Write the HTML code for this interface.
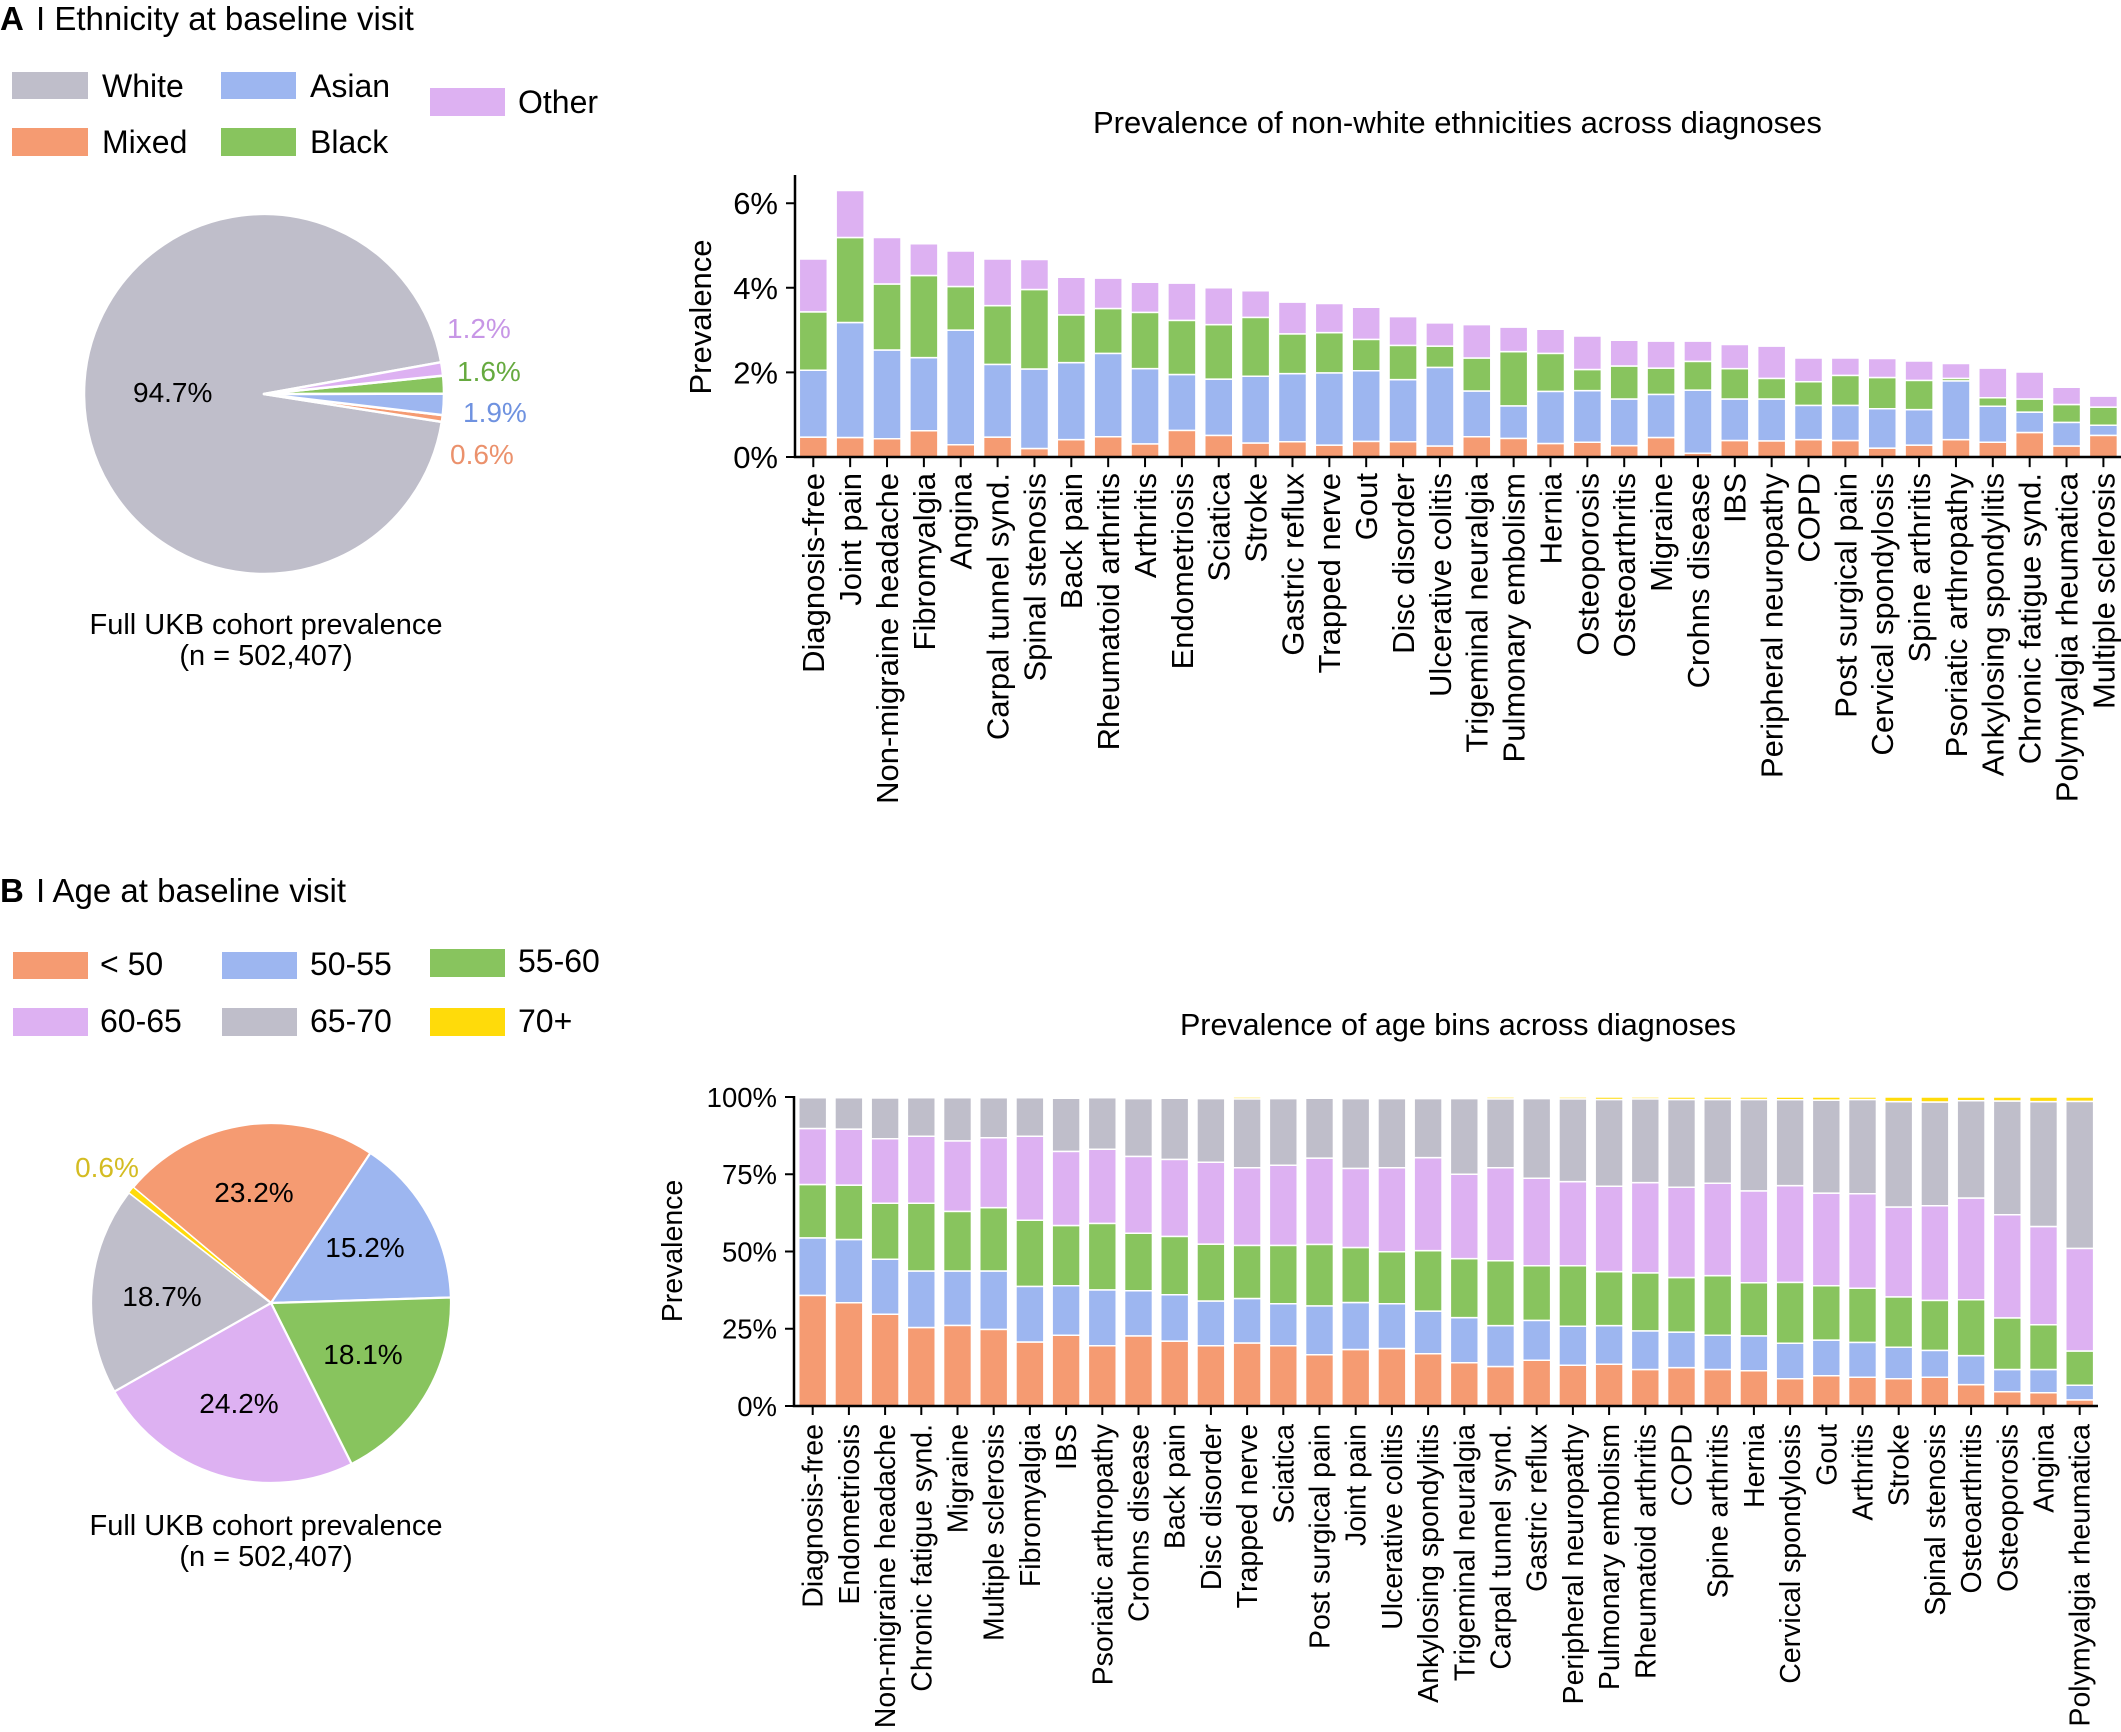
<!DOCTYPE html>
<html><head><meta charset="utf-8"><style>
html,body{margin:0;padding:0;background:#fff}
svg{display:block}
text{font-family:"Liberation Sans",Arial,Helvetica,sans-serif;fill:#000}
.o{fill:#F59B72}.b{fill:#9DB6F0}.g{fill:#88C45E}.p{fill:#DDB1F2}.w{fill:#BFBECA}.y{fill:#FFDB0A}
.bars rect{stroke:#fff;stroke-width:1.5px;vector-effect:non-scaling-stroke}
.tk{stroke:#000;stroke-width:2px;fill:none;vector-effect:non-scaling-stroke}
.xa text{font-size:31px;text-anchor:end}
.xb text{font-size:28.5px;text-anchor:end}
.lg{font-size:32px}
.pl{font-size:28px}
</style></head><body>
<svg xmlns="http://www.w3.org/2000/svg" width="2121" height="1732" viewBox="0 0 2121 1732">
<rect width="2121" height="1732" fill="#fff"/>

<!-- ================= PANEL A ================= -->
<text x="0" y="30" style="font-size:33px;font-weight:bold">A</text>
<text x="36" y="30" style="font-size:33px">I Ethnicity at baseline visit</text>

<rect class="w" x="12" y="72" width="76" height="27"/><text class="lg" x="102" y="97">White</text>
<rect class="b" x="221" y="72" width="75" height="27"/><text class="lg" x="310" y="97">Asian</text>
<rect class="p" x="430" y="88" width="75" height="28"/><text class="lg" x="518" y="113">Other</text>
<rect class="o" x="12" y="128" width="76" height="28"/><text class="lg" x="102" y="153">Mixed</text>
<rect class="g" x="221" y="128" width="75" height="28"/><text class="lg" x="310" y="153">Black</text>

<g stroke="#fff" stroke-width="2.5" stroke-linejoin="round">
<path class="w" d="M264 394 L441.17 362.18 A180 180 0 1 0 441.83 421.85 Z"/>
<path class="o" d="M264 394 L441.83 421.85 A180 180 0 0 0 442.76 415.13 Z"/>
<path class="b" d="M264 394 L442.76 415.13 A180 180 0 0 0 444 393.69 Z"/>
<path class="g" d="M264 394 L444 393.69 A180 180 0 0 0 443.06 375.62 Z"/>
<path class="p" d="M264 394 L443.06 375.62 A180 180 0 0 0 441.17 362.18 Z"/>
</g>
<text class="pl" x="133" y="402">94.7%</text>
<text class="pl" x="447" y="338" style="fill:#C796E6">1.2%</text>
<text class="pl" x="457" y="381" style="fill:#66AA3F">1.6%</text>
<text class="pl" x="463" y="422" style="fill:#6F92E0">1.9%</text>
<text class="pl" x="450" y="464" style="fill:#EB916C">0.6%</text>
<text x="266" y="634" style="font-size:29px;text-anchor:middle">Full UKB cohort prevalence</text>
<text x="266" y="665" style="font-size:29px;text-anchor:middle">(n = 502,407)</text>

<!-- Chart A -->
<text x="1093" y="133" style="font-size:31px">Prevalence of non-white ethnicities across diagnoses</text>
<text transform="translate(711 317) rotate(-90)" style="font-size:31px;text-anchor:middle">Prevalence</text>
<g style="font-size:31px;text-anchor:end">
<text x="778" y="468">0%</text>
<text x="778" y="383.4">2%</text>
<text x="778" y="298.8">4%</text>
<text x="778" y="214.2">6%</text>
</g>
<path d="M786 457H795M786 372.4H795M786 287.8H795M786 203.2H795" stroke="#000" stroke-width="2"/>

<g class="bars" transform="translate(813.3 457) scale(36.86 -42.3)">
<rect class="o" x="-.38" width=".76" y="0" height=".47"/><rect class="b" x="-.38" width=".76" y=".47" height="1.58"/><rect class="g" x="-.38" width=".76" y="2.05" height="1.38"/><rect class="p" x="-.38" width=".76" y="3.43" height="1.25"/>
<rect class="o" x=".62" width=".76" y="0" height=".46"/><rect class="b" x=".62" width=".76" y=".46" height="2.72"/><rect class="g" x=".62" width=".76" y="3.18" height="2.01"/><rect class="p" x=".62" width=".76" y="5.19" height="1.11"/>
<rect class="o" x="1.62" width=".76" y="0" height=".43"/><rect class="b" x="1.62" width=".76" y=".43" height="2.10"/><rect class="g" x="1.62" width=".76" y="2.53" height="1.56"/><rect class="p" x="1.62" width=".76" y="4.09" height="1.10"/>
<rect class="o" x="2.62" width=".76" y="0" height=".62"/><rect class="b" x="2.62" width=".76" y=".62" height="1.73"/><rect class="g" x="2.62" width=".76" y="2.35" height="1.94"/><rect class="p" x="2.62" width=".76" y="4.29" height=".75"/>
<rect class="o" x="3.62" width=".76" y="0" height=".29"/><rect class="b" x="3.62" width=".76" y=".29" height="2.71"/><rect class="g" x="3.62" width=".76" y="3.00" height="1.03"/><rect class="p" x="3.62" width=".76" y="4.03" height=".84"/>
<rect class="o" x="4.62" width=".76" y="0" height=".47"/><rect class="b" x="4.62" width=".76" y=".47" height="1.72"/><rect class="g" x="4.62" width=".76" y="2.19" height="1.39"/><rect class="p" x="4.62" width=".76" y="3.58" height="1.10"/>
<rect class="o" x="5.62" width=".76" y="0" height=".20"/><rect class="b" x="5.62" width=".76" y=".20" height="1.88"/><rect class="g" x="5.62" width=".76" y="2.08" height="1.88"/><rect class="p" x="5.62" width=".76" y="3.96" height=".71"/>
<rect class="o" x="6.62" width=".76" y="0" height=".41"/><rect class="b" x="6.62" width=".76" y=".41" height="1.82"/><rect class="g" x="6.62" width=".76" y="2.23" height="1.13"/><rect class="p" x="6.62" width=".76" y="3.36" height=".89"/>
<rect class="o" x="7.62" width=".76" y="0" height=".48"/><rect class="b" x="7.62" width=".76" y=".48" height="1.97"/><rect class="g" x="7.62" width=".76" y="2.45" height="1.06"/><rect class="p" x="7.62" width=".76" y="3.51" height=".72"/>
<rect class="o" x="8.62" width=".76" y="0" height=".31"/><rect class="b" x="8.62" width=".76" y=".31" height="1.78"/><rect class="g" x="8.62" width=".76" y="2.09" height="1.33"/><rect class="p" x="8.62" width=".76" y="3.42" height=".71"/>
<rect class="o" x="9.62" width=".76" y="0" height=".63"/><rect class="b" x="9.62" width=".76" y=".63" height="1.32"/><rect class="g" x="9.62" width=".76" y="1.95" height="1.28"/><rect class="p" x="9.62" width=".76" y="3.23" height=".88"/>
<rect class="o" x="10.62" width=".76" y="0" height=".51"/><rect class="b" x="10.62" width=".76" y=".51" height="1.33"/><rect class="g" x="10.62" width=".76" y="1.84" height="1.29"/><rect class="p" x="10.62" width=".76" y="3.13" height=".87"/>
<rect class="o" x="11.62" width=".76" y="0" height=".33"/><rect class="b" x="11.62" width=".76" y=".33" height="1.58"/><rect class="g" x="11.62" width=".76" y="1.91" height="1.39"/><rect class="p" x="11.62" width=".76" y="3.30" height=".63"/>
<rect class="o" x="12.62" width=".76" y="0" height=".36"/><rect class="b" x="12.62" width=".76" y=".36" height="1.61"/><rect class="g" x="12.62" width=".76" y="1.97" height=".94"/><rect class="p" x="12.62" width=".76" y="2.91" height=".75"/>
<rect class="o" x="13.62" width=".76" y="0" height=".28"/><rect class="b" x="13.62" width=".76" y=".28" height="1.71"/><rect class="g" x="13.62" width=".76" y="1.99" height=".95"/><rect class="p" x="13.62" width=".76" y="2.94" height=".69"/>
<rect class="o" x="14.62" width=".76" y="0" height=".37"/><rect class="b" x="14.62" width=".76" y=".37" height="1.67"/><rect class="g" x="14.62" width=".76" y="2.04" height=".74"/><rect class="p" x="14.62" width=".76" y="2.78" height=".76"/>
<rect class="o" x="15.62" width=".76" y="0" height=".36"/><rect class="b" x="15.62" width=".76" y=".36" height="1.47"/><rect class="g" x="15.62" width=".76" y="1.83" height=".81"/><rect class="p" x="15.62" width=".76" y="2.64" height=".68"/>
<rect class="o" x="16.62" width=".76" y="0" height=".26"/><rect class="b" x="16.62" width=".76" y=".26" height="1.86"/><rect class="g" x="16.62" width=".76" y="2.12" height=".50"/><rect class="p" x="16.62" width=".76" y="2.62" height=".55"/>
<rect class="o" x="17.62" width=".76" y="0" height=".48"/><rect class="b" x="17.62" width=".76" y=".48" height="1.08"/><rect class="g" x="17.62" width=".76" y="1.56" height=".78"/><rect class="p" x="17.62" width=".76" y="2.34" height=".79"/>
<rect class="o" x="18.62" width=".76" y="0" height=".44"/><rect class="b" x="18.62" width=".76" y=".44" height=".77"/><rect class="g" x="18.62" width=".76" y="1.21" height="1.28"/><rect class="p" x="18.62" width=".76" y="2.49" height=".58"/>
<rect class="o" x="19.62" width=".76" y="0" height=".32"/><rect class="b" x="19.62" width=".76" y=".32" height="1.23"/><rect class="g" x="19.62" width=".76" y="1.55" height=".90"/><rect class="p" x="19.62" width=".76" y="2.45" height=".57"/>
<rect class="o" x="20.62" width=".76" y="0" height=".35"/><rect class="b" x="20.62" width=".76" y=".35" height="1.22"/><rect class="g" x="20.62" width=".76" y="1.57" height=".50"/><rect class="p" x="20.62" width=".76" y="2.07" height=".79"/>
<rect class="o" x="21.62" width=".76" y="0" height=".27"/><rect class="b" x="21.62" width=".76" y=".27" height="1.10"/><rect class="g" x="21.62" width=".76" y="1.37" height=".78"/><rect class="p" x="21.62" width=".76" y="2.15" height=".61"/>
<rect class="o" x="22.62" width=".76" y="0" height=".46"/><rect class="b" x="22.62" width=".76" y=".46" height="1.02"/><rect class="g" x="22.62" width=".76" y="1.48" height=".62"/><rect class="p" x="22.62" width=".76" y="2.10" height=".64"/>
<rect class="o" x="23.62" width=".76" y="0" height=".09"/><rect class="b" x="23.62" width=".76" y=".09" height="1.49"/><rect class="g" x="23.62" width=".76" y="1.58" height=".68"/><rect class="p" x="23.62" width=".76" y="2.26" height=".48"/>
<rect class="o" x="24.62" width=".76" y="0" height=".39"/><rect class="b" x="24.62" width=".76" y=".39" height=".98"/><rect class="g" x="24.62" width=".76" y="1.37" height=".72"/><rect class="p" x="24.62" width=".76" y="2.09" height=".57"/>
<rect class="o" x="25.62" width=".76" y="0" height=".38"/><rect class="b" x="25.62" width=".76" y=".38" height=".99"/><rect class="g" x="25.62" width=".76" y="1.37" height=".49"/><rect class="p" x="25.62" width=".76" y="1.86" height=".76"/>
<rect class="o" x="26.62" width=".76" y="0" height=".41"/><rect class="b" x="26.62" width=".76" y=".41" height=".81"/><rect class="g" x="26.62" width=".76" y="1.22" height=".56"/><rect class="p" x="26.62" width=".76" y="1.78" height=".56"/>
<rect class="o" x="27.62" width=".76" y="0" height=".39"/><rect class="b" x="27.62" width=".76" y=".39" height=".83"/><rect class="g" x="27.62" width=".76" y="1.22" height=".71"/><rect class="p" x="27.62" width=".76" y="1.93" height=".41"/>
<rect class="o" x="28.62" width=".76" y="0" height=".21"/><rect class="b" x="28.62" width=".76" y=".21" height=".93"/><rect class="g" x="28.62" width=".76" y="1.14" height=".74"/><rect class="p" x="28.62" width=".76" y="1.88" height=".45"/>
<rect class="o" x="29.62" width=".76" y="0" height=".28"/><rect class="b" x="29.62" width=".76" y=".28" height=".84"/><rect class="g" x="29.62" width=".76" y="1.12" height=".69"/><rect class="p" x="29.62" width=".76" y="1.81" height=".46"/>
<rect class="o" x="30.62" width=".76" y="0" height=".41"/><rect class="b" x="30.62" width=".76" y=".41" height="1.39"/><rect class="g" x="30.62" width=".76" y="1.80" height=".06"/><rect class="p" x="30.62" width=".76" y="1.86" height=".35"/>
<rect class="o" x="31.62" width=".76" y="0" height=".35"/><rect class="b" x="31.62" width=".76" y=".35" height=".85"/><rect class="g" x="31.62" width=".76" y="1.20" height=".20"/><rect class="p" x="31.62" width=".76" y="1.40" height=".70"/>
<rect class="o" x="32.62" width=".76" y="0" height=".58"/><rect class="b" x="32.62" width=".76" y=".58" height=".48"/><rect class="g" x="32.62" width=".76" y="1.06" height=".31"/><rect class="p" x="32.62" width=".76" y="1.37" height=".64"/>
<rect class="o" x="33.62" width=".76" y="0" height=".26"/><rect class="b" x="33.62" width=".76" y=".26" height=".56"/><rect class="g" x="33.62" width=".76" y=".82" height=".42"/><rect class="p" x="33.62" width=".76" y="1.24" height=".41"/>
<rect class="o" x="34.62" width=".76" y="0" height=".51"/><rect class="b" x="34.62" width=".76" y=".51" height=".24"/><rect class="g" x="34.62" width=".76" y=".75" height=".43"/><rect class="p" x="34.62" width=".76" y="1.18" height=".26"/>
<path class="tk" d="M0 0V-.24M1 0V-.24M2 0V-.24M3 0V-.24M4 0V-.24M5 0V-.24M6 0V-.24M7 0V-.24M8 0V-.24M9 0V-.24M10 0V-.24M11 0V-.24M12 0V-.24M13 0V-.24M14 0V-.24M15 0V-.24M16 0V-.24M17 0V-.24M18 0V-.24M19 0V-.24M20 0V-.24M21 0V-.24M22 0V-.24M23 0V-.24M24 0V-.24M25 0V-.24M26 0V-.24M27 0V-.24M28 0V-.24M29 0V-.24M30 0V-.24M31 0V-.24M32 0V-.24M33 0V-.24M34 0V-.24M35 0V-.24"/>
</g>
<path d="M795 175V458.2M793.8 457H2121" stroke="#000" stroke-width="2.5" fill="none"/>

<g class="xa">
<text transform="translate(813.3 473) rotate(-90)" dy=".35em">Diagnosis-free</text>
<text transform="translate(850.2 473) rotate(-90)" dy=".35em">Joint pain</text>
<text transform="translate(887.0 473) rotate(-90)" dy=".35em">Non-migraine headache</text>
<text transform="translate(923.9 473) rotate(-90)" dy=".35em">Fibromyalgia</text>
<text transform="translate(960.7 473) rotate(-90)" dy=".35em">Angina</text>
<text transform="translate(997.6 473) rotate(-90)" dy=".35em">Carpal tunnel synd.</text>
<text transform="translate(1034.5 473) rotate(-90)" dy=".35em">Spinal stenosis</text>
<text transform="translate(1071.3 473) rotate(-90)" dy=".35em">Back pain</text>
<text transform="translate(1108.2 473) rotate(-90)" dy=".35em">Rheumatoid arthritis</text>
<text transform="translate(1145.0 473) rotate(-90)" dy=".35em">Arthritis</text>
<text transform="translate(1181.9 473) rotate(-90)" dy=".35em">Endometriosis</text>
<text transform="translate(1218.8 473) rotate(-90)" dy=".35em">Sciatica</text>
<text transform="translate(1255.6 473) rotate(-90)" dy=".35em">Stroke</text>
<text transform="translate(1292.5 473) rotate(-90)" dy=".35em">Gastric reflux</text>
<text transform="translate(1329.3 473) rotate(-90)" dy=".35em">Trapped nerve</text>
<text transform="translate(1366.2 473) rotate(-90)" dy=".35em">Gout</text>
<text transform="translate(1403.1 473) rotate(-90)" dy=".35em">Disc disorder</text>
<text transform="translate(1439.9 473) rotate(-90)" dy=".35em">Ulcerative colitis</text>
<text transform="translate(1476.8 473) rotate(-90)" dy=".35em">Trigeminal neuralgia</text>
<text transform="translate(1513.6 473) rotate(-90)" dy=".35em">Pulmonary embolism</text>
<text transform="translate(1550.5 473) rotate(-90)" dy=".35em">Hernia</text>
<text transform="translate(1587.4 473) rotate(-90)" dy=".35em">Osteoporosis</text>
<text transform="translate(1624.2 473) rotate(-90)" dy=".35em">Osteoarthritis</text>
<text transform="translate(1661.1 473) rotate(-90)" dy=".35em">Migraine</text>
<text transform="translate(1697.9 473) rotate(-90)" dy=".35em">Crohns disease</text>
<text transform="translate(1734.8 473) rotate(-90)" dy=".35em">IBS</text>
<text transform="translate(1771.7 473) rotate(-90)" dy=".35em">Peripheral neuropathy</text>
<text transform="translate(1808.5 473) rotate(-90)" dy=".35em">COPD</text>
<text transform="translate(1845.4 473) rotate(-90)" dy=".35em">Post surgical pain</text>
<text transform="translate(1882.2 473) rotate(-90)" dy=".35em">Cervical spondylosis</text>
<text transform="translate(1919.1 473) rotate(-90)" dy=".35em">Spine arthritis</text>
<text transform="translate(1956.0 473) rotate(-90)" dy=".35em">Psoriatic arthropathy</text>
<text transform="translate(1992.8 473) rotate(-90)" dy=".35em">Ankylosing spondylitis</text>
<text transform="translate(2029.7 473) rotate(-90)" dy=".35em">Chronic fatigue synd.</text>
<text transform="translate(2066.5 473) rotate(-90)" dy=".35em">Polymyalgia rheumatica</text>
<text transform="translate(2103.4 473) rotate(-90)" dy=".35em">Multiple sclerosis</text>
</g>

<!-- ================= PANEL B ================= -->
<text x="0" y="902" style="font-size:33px;font-weight:bold">B</text>
<text x="36" y="902" style="font-size:33px">I Age at baseline visit</text>

<rect class="o" x="13" y="952" width="75" height="27"/><text class="lg" x="100" y="975">&lt; 50</text>
<rect class="b" x="222" y="952" width="75" height="27"/><text class="lg" x="310" y="975">50-55</text>
<rect class="g" x="430" y="949" width="75" height="28"/><text class="lg" x="518" y="972">55-60</text>
<rect class="p" x="13" y="1008" width="75" height="28"/><text class="lg" x="100" y="1032">60-65</text>
<rect class="w" x="222" y="1008" width="75" height="28"/><text class="lg" x="310" y="1032">65-70</text>
<rect class="y" x="430" y="1008" width="75" height="28"/><text class="lg" x="518" y="1032">70+</text>

<g stroke="#fff" stroke-width="2.2" stroke-linejoin="round">
<path class="o" d="M271 1303 L133.11 1187.30 A180 180 0 0 1 370.42 1152.94 Z"/>
<path class="b" d="M271 1303 L370.42 1152.94 A180 180 0 0 1 450.92 1297.47 Z"/>
<path class="g" d="M271 1303 L450.92 1297.47 A180 180 0 0 1 351.60 1463.95 Z"/>
<path class="p" d="M271 1303 L351.60 1463.95 A180 180 0 0 1 114.30 1391.58 Z"/>
<path class="w" d="M271 1303 L114.30 1391.58 A180 180 0 0 1 128.89 1192.55 Z"/>
</g>
<path class="y" d="M271 1303 L128.89 1192.55 A180 180 0 0 1 133.11 1187.30 Z" stroke="#fff" stroke-width="1"/>
<g class="pl" style="text-anchor:middle">
<text x="254" y="1202">23.2%</text>
<text x="365" y="1257">15.2%</text>
<text x="363" y="1364">18.1%</text>
<text x="239" y="1413">24.2%</text>
<text x="162" y="1306">18.7%</text>
<text x="107" y="1177" style="fill:#D4BC22">0.6%</text>
</g>
<text x="266" y="1535" style="font-size:29px;text-anchor:middle">Full UKB cohort prevalence</text>
<text x="266" y="1566" style="font-size:29px;text-anchor:middle">(n = 502,407)</text>

<!-- Chart B -->
<text x="1458" y="1035" style="font-size:30.5px;text-anchor:middle">Prevalence of age bins across diagnoses</text>
<text transform="translate(682 1251) rotate(-90)" style="font-size:28.5px;text-anchor:middle">Prevalence</text>
<g style="font-size:27.5px;text-anchor:end">
<text x="777" y="1416">0%</text>
<text x="777" y="1338.7">25%</text>
<text x="777" y="1261.5">50%</text>
<text x="777" y="1184.2">75%</text>
<text x="777" y="1107">100%</text>
</g>
<path d="M785 1406H794M785 1328.7H794M785 1251.5H794M785 1174.2H794M785 1097H794" stroke="#000" stroke-width="2"/>

<g class="bars" transform="translate(812.7 1406) scale(36.2 -3.09)">
<rect class="o" x="-.385" width=".77" y="0" height="35.8"/><rect class="b" x="-.385" width=".77" y="35.8" height="18.6"/><rect class="g" x="-.385" width=".77" y="54.4" height="17.3"/><rect class="p" x="-.385" width=".77" y="71.7" height="18.1"/><rect class="w" x="-.385" width=".77" y="89.8" height="10.0"/><rect class="y" x="-.385" width=".77" y="99.8" height=".2"/>
<rect class="o" x=".615" width=".77" y="0" height="33.4"/><rect class="b" x=".615" width=".77" y="33.4" height="20.5"/><rect class="g" x=".615" width=".77" y="53.9" height="17.6"/><rect class="p" x=".615" width=".77" y="71.5" height="18.1"/><rect class="w" x=".615" width=".77" y="89.6" height="10.2"/><rect class="y" x=".615" width=".77" y="99.8" height=".2"/>
<rect class="o" x="1.615" width=".77" y="0" height="29.7"/><rect class="b" x="1.615" width=".77" y="29.7" height="17.8"/><rect class="g" x="1.615" width=".77" y="47.5" height="18.1"/><rect class="p" x="1.615" width=".77" y="65.6" height="20.9"/><rect class="w" x="1.615" width=".77" y="86.5" height="13.2"/><rect class="y" x="1.615" width=".77" y="99.7" height=".3"/>
<rect class="o" x="2.615" width=".77" y="0" height="25.4"/><rect class="b" x="2.615" width=".77" y="25.4" height="18.3"/><rect class="g" x="2.615" width=".77" y="43.7" height="21.9"/><rect class="p" x="2.615" width=".77" y="65.6" height="21.7"/><rect class="w" x="2.615" width=".77" y="87.3" height="12.5"/><rect class="y" x="2.615" width=".77" y="99.8" height=".2"/>
<rect class="o" x="3.615" width=".77" y="0" height="26.1"/><rect class="b" x="3.615" width=".77" y="26.1" height="17.6"/><rect class="g" x="3.615" width=".77" y="43.7" height="19.3"/><rect class="p" x="3.615" width=".77" y="63.0" height="22.8"/><rect class="w" x="3.615" width=".77" y="85.8" height="14.0"/><rect class="y" x="3.615" width=".77" y="99.8" height=".2"/>
<rect class="o" x="4.615" width=".77" y="0" height="24.8"/><rect class="b" x="4.615" width=".77" y="24.8" height="18.9"/><rect class="g" x="4.615" width=".77" y="43.7" height="20.5"/><rect class="p" x="4.615" width=".77" y="64.2" height="22.6"/><rect class="w" x="4.615" width=".77" y="86.8" height="13.0"/><rect class="y" x="4.615" width=".77" y="99.8" height=".2"/>
<rect class="o" x="5.615" width=".77" y="0" height="20.7"/><rect class="b" x="5.615" width=".77" y="20.7" height="18.0"/><rect class="g" x="5.615" width=".77" y="38.7" height="21.4"/><rect class="p" x="5.615" width=".77" y="60.1" height="27.2"/><rect class="w" x="5.615" width=".77" y="87.3" height="12.5"/><rect class="y" x="5.615" width=".77" y="99.8" height=".2"/>
<rect class="o" x="6.615" width=".77" y="0" height="22.9"/><rect class="b" x="6.615" width=".77" y="22.9" height="16.0"/><rect class="g" x="6.615" width=".77" y="38.9" height="19.5"/><rect class="p" x="6.615" width=".77" y="58.4" height="24.0"/><rect class="w" x="6.615" width=".77" y="82.4" height="17.2"/><rect class="y" x="6.615" width=".77" y="99.6" height=".4"/>
<rect class="o" x="7.615" width=".77" y="0" height="19.5"/><rect class="b" x="7.615" width=".77" y="19.5" height="18.1"/><rect class="g" x="7.615" width=".77" y="37.6" height="21.5"/><rect class="p" x="7.615" width=".77" y="59.1" height="24.0"/><rect class="w" x="7.615" width=".77" y="83.1" height="16.7"/><rect class="y" x="7.615" width=".77" y="99.8" height=".2"/>
<rect class="o" x="8.615" width=".77" y="0" height="22.7"/><rect class="b" x="8.615" width=".77" y="22.7" height="14.6"/><rect class="g" x="8.615" width=".77" y="37.3" height="18.6"/><rect class="p" x="8.615" width=".77" y="55.9" height="24.9"/><rect class="w" x="8.615" width=".77" y="80.8" height="18.7"/><rect class="y" x="8.615" width=".77" y="99.5" height=".5"/>
<rect class="o" x="9.615" width=".77" y="0" height="21.0"/><rect class="b" x="9.615" width=".77" y="21.0" height="15.0"/><rect class="g" x="9.615" width=".77" y="36.0" height="18.9"/><rect class="p" x="9.615" width=".77" y="54.9" height="24.9"/><rect class="w" x="9.615" width=".77" y="79.8" height="19.8"/><rect class="y" x="9.615" width=".77" y="99.6" height=".4"/>
<rect class="o" x="10.615" width=".77" y="0" height="19.5"/><rect class="b" x="10.615" width=".77" y="19.5" height="14.5"/><rect class="g" x="10.615" width=".77" y="34.0" height="18.4"/><rect class="p" x="10.615" width=".77" y="52.4" height="26.5"/><rect class="w" x="10.615" width=".77" y="78.9" height="20.6"/><rect class="y" x="10.615" width=".77" y="99.5" height=".5"/>
<rect class="o" x="11.615" width=".77" y="0" height="20.4"/><rect class="b" x="11.615" width=".77" y="20.4" height="14.4"/><rect class="g" x="11.615" width=".77" y="34.8" height="17.2"/><rect class="p" x="11.615" width=".77" y="52.0" height="25.1"/><rect class="w" x="11.615" width=".77" y="77.1" height="22.3"/><rect class="y" x="11.615" width=".77" y="99.4" height=".6"/>
<rect class="o" x="12.615" width=".77" y="0" height="19.5"/><rect class="b" x="12.615" width=".77" y="19.5" height="13.6"/><rect class="g" x="12.615" width=".77" y="33.1" height="18.9"/><rect class="p" x="12.615" width=".77" y="52.0" height="25.9"/><rect class="w" x="12.615" width=".77" y="77.9" height="21.6"/><rect class="y" x="12.615" width=".77" y="99.5" height=".5"/>
<rect class="o" x="13.615" width=".77" y="0" height="16.6"/><rect class="b" x="13.615" width=".77" y="16.6" height="15.8"/><rect class="g" x="13.615" width=".77" y="32.4" height="19.9"/><rect class="p" x="13.615" width=".77" y="52.3" height="27.9"/><rect class="w" x="13.615" width=".77" y="80.2" height="19.4"/><rect class="y" x="13.615" width=".77" y="99.6" height=".4"/>
<rect class="o" x="14.615" width=".77" y="0" height="18.3"/><rect class="b" x="14.615" width=".77" y="18.3" height="15.2"/><rect class="g" x="14.615" width=".77" y="33.5" height="17.8"/><rect class="p" x="14.615" width=".77" y="51.3" height="25.6"/><rect class="w" x="14.615" width=".77" y="76.9" height="22.6"/><rect class="y" x="14.615" width=".77" y="99.5" height=".5"/>
<rect class="o" x="15.615" width=".77" y="0" height="18.6"/><rect class="b" x="15.615" width=".77" y="18.6" height="14.5"/><rect class="g" x="15.615" width=".77" y="33.1" height="16.8"/><rect class="p" x="15.615" width=".77" y="49.9" height="27.2"/><rect class="w" x="15.615" width=".77" y="77.1" height="22.4"/><rect class="y" x="15.615" width=".77" y="99.5" height=".5"/>
<rect class="o" x="16.615" width=".77" y="0" height="16.9"/><rect class="b" x="16.615" width=".77" y="16.9" height="13.8"/><rect class="g" x="16.615" width=".77" y="30.7" height="19.6"/><rect class="p" x="16.615" width=".77" y="50.3" height="30.1"/><rect class="w" x="16.615" width=".77" y="80.4" height="19.1"/><rect class="y" x="16.615" width=".77" y="99.5" height=".5"/>
<rect class="o" x="17.615" width=".77" y="0" height="14.0"/><rect class="b" x="17.615" width=".77" y="14.0" height="14.6"/><rect class="g" x="17.615" width=".77" y="28.6" height="19.1"/><rect class="p" x="17.615" width=".77" y="47.7" height="27.3"/><rect class="w" x="17.615" width=".77" y="75.0" height="24.5"/><rect class="y" x="17.615" width=".77" y="99.5" height=".5"/>
<rect class="o" x="18.615" width=".77" y="0" height="12.8"/><rect class="b" x="18.615" width=".77" y="12.8" height="13.2"/><rect class="g" x="18.615" width=".77" y="26.0" height="21.0"/><rect class="p" x="18.615" width=".77" y="47.0" height="30.1"/><rect class="w" x="18.615" width=".77" y="77.1" height="22.3"/><rect class="y" x="18.615" width=".77" y="99.4" height=".6"/>
<rect class="o" x="19.615" width=".77" y="0" height="14.8"/><rect class="b" x="19.615" width=".77" y="14.8" height="12.9"/><rect class="g" x="19.615" width=".77" y="27.7" height="17.7"/><rect class="p" x="19.615" width=".77" y="45.4" height="28.3"/><rect class="w" x="19.615" width=".77" y="73.7" height="25.8"/><rect class="y" x="19.615" width=".77" y="99.5" height=".5"/>
<rect class="o" x="20.615" width=".77" y="0" height="13.2"/><rect class="b" x="20.615" width=".77" y="13.2" height="12.6"/><rect class="g" x="20.615" width=".77" y="25.8" height="19.6"/><rect class="p" x="20.615" width=".77" y="45.4" height="27.2"/><rect class="w" x="20.615" width=".77" y="72.6" height="26.8"/><rect class="y" x="20.615" width=".77" y="99.4" height=".6"/>
<rect class="o" x="21.615" width=".77" y="0" height="13.5"/><rect class="b" x="21.615" width=".77" y="13.5" height="12.5"/><rect class="g" x="21.615" width=".77" y="26.0" height="17.5"/><rect class="p" x="21.615" width=".77" y="43.5" height="27.6"/><rect class="w" x="21.615" width=".77" y="71.1" height="28.1"/><rect class="y" x="21.615" width=".77" y="99.2" height=".8"/>
<rect class="o" x="22.615" width=".77" y="0" height="11.8"/><rect class="b" x="22.615" width=".77" y="11.8" height="12.5"/><rect class="g" x="22.615" width=".77" y="24.3" height="18.8"/><rect class="p" x="22.615" width=".77" y="43.1" height="29.2"/><rect class="w" x="22.615" width=".77" y="72.3" height="27.1"/><rect class="y" x="22.615" width=".77" y="99.4" height=".6"/>
<rect class="o" x="23.615" width=".77" y="0" height="12.4"/><rect class="b" x="23.615" width=".77" y="12.4" height="11.5"/><rect class="g" x="23.615" width=".77" y="23.9" height="17.7"/><rect class="p" x="23.615" width=".77" y="41.6" height="29.2"/><rect class="w" x="23.615" width=".77" y="70.8" height="28.4"/><rect class="y" x="23.615" width=".77" y="99.2" height=".8"/>
<rect class="o" x="24.615" width=".77" y="0" height="11.8"/><rect class="b" x="24.615" width=".77" y="11.8" height="11.1"/><rect class="g" x="24.615" width=".77" y="22.9" height="19.3"/><rect class="p" x="24.615" width=".77" y="42.2" height="29.9"/><rect class="w" x="24.615" width=".77" y="72.1" height="27.1"/><rect class="y" x="24.615" width=".77" y="99.2" height=".8"/>
<rect class="o" x="25.615" width=".77" y="0" height="11.4"/><rect class="b" x="25.615" width=".77" y="11.4" height="11.3"/><rect class="g" x="25.615" width=".77" y="22.7" height="17.2"/><rect class="p" x="25.615" width=".77" y="39.9" height="29.7"/><rect class="w" x="25.615" width=".77" y="69.6" height="29.6"/><rect class="y" x="25.615" width=".77" y="99.2" height=".8"/>
<rect class="o" x="26.615" width=".77" y="0" height="8.8"/><rect class="b" x="26.615" width=".77" y="8.8" height="11.5"/><rect class="g" x="26.615" width=".77" y="20.3" height="19.7"/><rect class="p" x="26.615" width=".77" y="40.0" height="31.3"/><rect class="w" x="26.615" width=".77" y="71.3" height="27.8"/><rect class="y" x="26.615" width=".77" y="99.1" height=".9"/>
<rect class="o" x="27.615" width=".77" y="0" height="9.8"/><rect class="b" x="27.615" width=".77" y="9.8" height="11.5"/><rect class="g" x="27.615" width=".77" y="21.3" height="17.6"/><rect class="p" x="27.615" width=".77" y="38.9" height="30.0"/><rect class="w" x="27.615" width=".77" y="68.9" height="30.1"/><rect class="y" x="27.615" width=".77" y="99.0" height="1.0"/>
<rect class="o" x="28.615" width=".77" y="0" height="9.3"/><rect class="b" x="28.615" width=".77" y="9.3" height="11.3"/><rect class="g" x="28.615" width=".77" y="20.6" height="17.5"/><rect class="p" x="28.615" width=".77" y="38.1" height="30.6"/><rect class="w" x="28.615" width=".77" y="68.7" height="30.5"/><rect class="y" x="28.615" width=".77" y="99.2" height=".8"/>
<rect class="o" x="29.615" width=".77" y="0" height="8.8"/><rect class="b" x="29.615" width=".77" y="8.8" height="10.2"/><rect class="g" x="29.615" width=".77" y="19.0" height="16.3"/><rect class="p" x="29.615" width=".77" y="35.3" height="29.1"/><rect class="w" x="29.615" width=".77" y="64.4" height="34.1"/><rect class="y" x="29.615" width=".77" y="98.5" height="1.5"/>
<rect class="o" x="30.615" width=".77" y="0" height="9.3"/><rect class="b" x="30.615" width=".77" y="9.3" height="8.7"/><rect class="g" x="30.615" width=".77" y="18.0" height="16.2"/><rect class="p" x="30.615" width=".77" y="34.2" height="30.6"/><rect class="w" x="30.615" width=".77" y="64.8" height="33.6"/><rect class="y" x="30.615" width=".77" y="98.4" height="1.6"/>
<rect class="o" x="31.615" width=".77" y="0" height="6.9"/><rect class="b" x="31.615" width=".77" y="6.9" height="9.4"/><rect class="g" x="31.615" width=".77" y="16.3" height="18.1"/><rect class="p" x="31.615" width=".77" y="34.4" height="32.9"/><rect class="w" x="31.615" width=".77" y="67.3" height="31.5"/><rect class="y" x="31.615" width=".77" y="98.8" height="1.2"/>
<rect class="o" x="32.615" width=".77" y="0" height="4.6"/><rect class="b" x="32.615" width=".77" y="4.6" height="7.2"/><rect class="g" x="32.615" width=".77" y="11.8" height="16.7"/><rect class="p" x="32.615" width=".77" y="28.5" height="33.4"/><rect class="w" x="32.615" width=".77" y="61.9" height="36.8"/><rect class="y" x="32.615" width=".77" y="98.7" height="1.3"/>
<rect class="o" x="33.615" width=".77" y="0" height="4.3"/><rect class="b" x="33.615" width=".77" y="4.3" height="7.5"/><rect class="g" x="33.615" width=".77" y="11.8" height="14.5"/><rect class="p" x="33.615" width=".77" y="26.3" height="31.8"/><rect class="w" x="33.615" width=".77" y="58.1" height="40.4"/><rect class="y" x="33.615" width=".77" y="98.5" height="1.5"/>
<rect class="o" x="34.615" width=".77" y="0" height="2.0"/><rect class="b" x="34.615" width=".77" y="2.0" height="4.7"/><rect class="g" x="34.615" width=".77" y="6.7" height="11.1"/><rect class="p" x="34.615" width=".77" y="17.8" height="33.2"/><rect class="w" x="34.615" width=".77" y="51.0" height="47.6"/><rect class="y" x="34.615" width=".77" y="98.6" height="1.4"/>
<path class="tk" d="M0 0V-2.9M1 0V-2.9M2 0V-2.9M3 0V-2.9M4 0V-2.9M5 0V-2.9M6 0V-2.9M7 0V-2.9M8 0V-2.9M9 0V-2.9M10 0V-2.9M11 0V-2.9M12 0V-2.9M13 0V-2.9M14 0V-2.9M15 0V-2.9M16 0V-2.9M17 0V-2.9M18 0V-2.9M19 0V-2.9M20 0V-2.9M21 0V-2.9M22 0V-2.9M23 0V-2.9M24 0V-2.9M25 0V-2.9M26 0V-2.9M27 0V-2.9M28 0V-2.9M29 0V-2.9M30 0V-2.9M31 0V-2.9M32 0V-2.9M33 0V-2.9M34 0V-2.9M35 0V-2.9"/>
</g>
<path d="M794 1096V1407.2M792.8 1406H2098" stroke="#000" stroke-width="2.5" fill="none"/>

<g class="xb">
<text transform="translate(812.7 1424) rotate(-90)" dy=".35em">Diagnosis-free</text>
<text transform="translate(848.9 1424) rotate(-90)" dy=".35em">Endometriosis</text>
<text transform="translate(885.1 1424) rotate(-90)" dy=".35em">Non-migraine headache</text>
<text transform="translate(921.3 1424) rotate(-90)" dy=".35em">Chronic fatigue synd.</text>
<text transform="translate(957.5 1424) rotate(-90)" dy=".35em">Migraine</text>
<text transform="translate(993.7 1424) rotate(-90)" dy=".35em">Multiple sclerosis</text>
<text transform="translate(1029.9 1424) rotate(-90)" dy=".35em">Fibromyalgia</text>
<text transform="translate(1066.1 1424) rotate(-90)" dy=".35em">IBS</text>
<text transform="translate(1102.3 1424) rotate(-90)" dy=".35em">Psoriatic arthropathy</text>
<text transform="translate(1138.5 1424) rotate(-90)" dy=".35em">Crohns disease</text>
<text transform="translate(1174.7 1424) rotate(-90)" dy=".35em">Back pain</text>
<text transform="translate(1210.9 1424) rotate(-90)" dy=".35em">Disc disorder</text>
<text transform="translate(1247.1 1424) rotate(-90)" dy=".35em">Trapped nerve</text>
<text transform="translate(1283.3 1424) rotate(-90)" dy=".35em">Sciatica</text>
<text transform="translate(1319.5 1424) rotate(-90)" dy=".35em">Post surgical pain</text>
<text transform="translate(1355.7 1424) rotate(-90)" dy=".35em">Joint pain</text>
<text transform="translate(1391.9 1424) rotate(-90)" dy=".35em">Ulcerative colitis</text>
<text transform="translate(1428.1 1424) rotate(-90)" dy=".35em">Ankylosing spondylitis</text>
<text transform="translate(1464.3 1424) rotate(-90)" dy=".35em">Trigeminal neuralgia</text>
<text transform="translate(1500.5 1424) rotate(-90)" dy=".35em">Carpal tunnel synd.</text>
<text transform="translate(1536.7 1424) rotate(-90)" dy=".35em">Gastric reflux</text>
<text transform="translate(1572.9 1424) rotate(-90)" dy=".35em">Peripheral neuropathy</text>
<text transform="translate(1609.1 1424) rotate(-90)" dy=".35em">Pulmonary embolism</text>
<text transform="translate(1645.3 1424) rotate(-90)" dy=".35em">Rheumatoid arthritis</text>
<text transform="translate(1681.5 1424) rotate(-90)" dy=".35em">COPD</text>
<text transform="translate(1717.7 1424) rotate(-90)" dy=".35em">Spine arthritis</text>
<text transform="translate(1753.9 1424) rotate(-90)" dy=".35em">Hernia</text>
<text transform="translate(1790.1 1424) rotate(-90)" dy=".35em">Cervical spondylosis</text>
<text transform="translate(1826.3 1424) rotate(-90)" dy=".35em">Gout</text>
<text transform="translate(1862.5 1424) rotate(-90)" dy=".35em">Arthritis</text>
<text transform="translate(1898.7 1424) rotate(-90)" dy=".35em">Stroke</text>
<text transform="translate(1934.9 1424) rotate(-90)" dy=".35em">Spinal stenosis</text>
<text transform="translate(1971.1 1424) rotate(-90)" dy=".35em">Osteoarthritis</text>
<text transform="translate(2007.3 1424) rotate(-90)" dy=".35em">Osteoporosis</text>
<text transform="translate(2043.5 1424) rotate(-90)" dy=".35em">Angina</text>
<text transform="translate(2079.7 1424) rotate(-90)" dy=".35em">Polymyalgia rheumatica</text>
</g>
</svg>
</body></html>
